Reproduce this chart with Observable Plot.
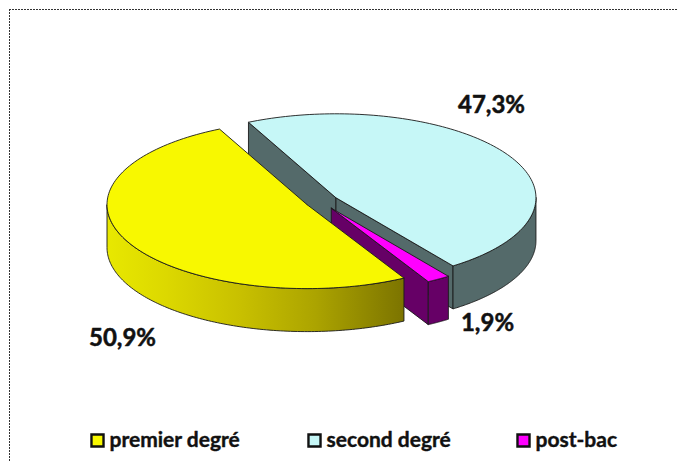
<!DOCTYPE html>
<html>
<head>
<meta charset="utf-8">
<script src="https://cdn.jsdelivr.net/npm/d3@7"></script>
<script src="https://cdn.jsdelivr.net/npm/@observablehq/plot@0.6"></script>
<style>html,body{margin:0;padding:0;background:#fff}svg{display:block}</style>
</head>
<body>
<div id="chart"></div>
<script>
const categories = ["premier degré", "second degré", "post-bac"];
const shares = [50.9, 47.3, 1.9];
const valueLabels = ["50,9%", "47,3%", "1,9%"];
const topColors = ["#f8f800", "#c6f7f7", "#ff00ff"];
const sideColors = ["url(#rimYellow)", "#546a6a", "#660066"];
const explode = [0.08, 0.086, 0.094];
const labelX = [122, 491, 487];
const labelY = [338, 105, 323];
const legendSwatchX = [97, 314, 523];
const legendTextX = [109, 326, 535];

// projection of the tilted disc
const W = 677, H = 461;
const cx = 320.7, cy = 201, a = 200, b = 84, depth = 43;
const startDeg = 61;
const rad = d => d * Math.PI / 180;

const total = d3.sum(shares);
let acc = startDeg;
const slices = categories.map((name, i) => {
  const t0 = acc, t1 = acc + shares[i] / total * 360;
  acc = t1;
  const mid = rad((t0 + t1) / 2);
  return {
    name, t0, t1,
    cx: cx + explode[i] * a * Math.cos(mid),
    cy: cy + explode[i] * b * Math.sin(mid),
    top: topColors[i], side: sideColors[i]
  };
});

const pt = (s, deg, dz = 0) => ({x: s.cx + a * Math.cos(rad(deg)), y: s.cy + b * Math.sin(rad(deg)) + dz});
const arc = (s, d0, d1, dz = 0) => d3.range(0, 121).map(k => pt(s, d0 + (d1 - d0) * k / 120, dz));
const centre = (s, dz = 0) => ({x: s.cx, y: s.cy + dz});
const closed = p => [...p, p[0]];

const poly = (p, fill, stroke = "#1a1a1a", w = 0.9) =>
  Plot.line(closed(p), {x: "x", y: "y", fill, stroke, strokeWidth: w, curve: "linear", strokeLinejoin: "miter"});

const topFace = s => poly([centre(s), ...arc(s, s.t0, s.t1)], s.top);
const rim = (s, d0, d1) => poly([...arc(s, d0, d1), ...arc(s, d1, d0, depth)], s.side);
const cut = (s, deg) => poly([centre(s), pt(s, deg), pt(s, deg, depth), centre(s, depth)], s.side);

const [yellow, cyan, pink] = slices;

const gradient = () => {
  const svg = d3.create("svg:defs");
  const g = svg.append("linearGradient").attr("id", "rimYellow")
    .attr("gradientUnits", "objectBoundingBox").attr("x1", 0).attr("x2", 1).attr("y1", 0).attr("y2", 0);
  [[0, "#e8e800"], [0.2, "#dcd800"], [0.45, "#c8c000"], [0.7, "#aca400"], [1, "#7c7400"]]
    .forEach(([o, c]) => g.append("stop").attr("offset", o).attr("stop-color", c));
  return svg.node();
};

const legend = categories.map((name, i) => ({name, sx: legendSwatchX[i], tx: legendTextX[i], color: topColors[i]}));
const labels = valueLabels.map((text, i) => ({text, x: labelX[i], y: labelY[i]}));

const chart = Plot.plot({
  width: W, height: H, margin: 0,
  x: {domain: [0, W], range: [0, W], axis: null},
  y: {domain: [0, H], range: [0, H], axis: null},
  style: {background: "#fff"},
  marks: [
    gradient,
    Plot.ruleY([9], {x1: 9, x2: W, stroke: "#333", strokeDasharray: "2,1", strokeWidth: 1}),
    Plot.ruleX([9], {y1: 9, y2: H, stroke: "#333", strokeDasharray: "2,1", strokeWidth: 1}),

    cut(cyan, cyan.t0), cut(cyan, cyan.t1), rim(cyan, 360, cyan.t1), topFace(cyan),
    cut(pink, pink.t1), rim(pink, pink.t0, pink.t1), topFace(pink),
    rim(yellow, yellow.t0, 180), topFace(yellow),

    Plot.text(labels, {x: "x", y: "y", text: "text", fontFamily: "Lato", fontWeight: 700, fontSize: 24, fill: "#111", stroke: "#111", strokeWidth: 0.5}),

    Plot.dot(legend, {x: "sx", y: () => 440, symbol: "square", r: 6.8, fill: "color", stroke: "#111", strokeWidth: 2.4}),
    Plot.text(legend, {x: "tx", y: () => 440, text: "name", textAnchor: "start", fontFamily: "Lato", fontWeight: 700, fontSize: 21, fill: "#111", stroke: "#111", strokeWidth: 0.4})
  ]
});
document.getElementById("chart").append(chart);
</script>
</body>
</html>
